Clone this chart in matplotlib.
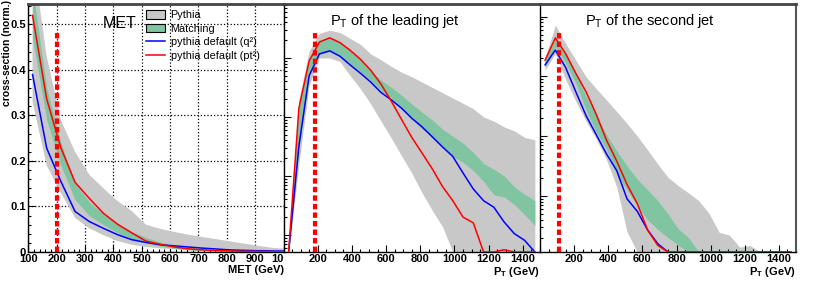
"""Three pads: MET, leading jet pT and second jet pT, Pythia band vs matching."""

import matplotlib
matplotlib.use("Agg")
import matplotlib.pyplot as plt
import numpy as np
from matplotlib.lines import Line2D
from matplotlib.patches import Patch, Rectangle
from matplotlib.ticker import (FuncFormatter, LogLocator, MultipleLocator,
                               NullFormatter)

plt.rcParams["font.family"] = ["Liberation Sans", "DejaVu Sans"]
plt.rcParams["mathtext.fontset"] = "custom"
plt.rcParams["mathtext.rm"] = "Liberation Sans"

# ---- MET (linear pad)
met_x = [115, 165, 215, 265, 315, 365, 415, 465, 515, 565,
         615, 665, 715, 765, 815, 865, 915, 965, 1015]
met_pt2 = [0.52, 0.336, 0.229, 0.153, 0.118, 0.085, 0.061, 0.042, 0.024, 0.017,
           0.011, 0.007, 0.0047, 0.0032, 0.0023, 0.0016, 0.0011, 0.0008, 0.0006]
met_q2 = [0.39, 0.228, 0.155, 0.089, 0.067, 0.052, 0.038, 0.027, 0.021, 0.016,
          0.0135, 0.011, 0.0085, 0.0065, 0.0045, 0.0035, 0.0028, 0.0022, 0.0018]
met_match_lo = [0.47, 0.29, 0.19, 0.115, 0.080, 0.060, 0.042, 0.029, 0.020, 0.013,
                0.008, 0.005, 0.003, 0.002, 0.0015, 0.001, 0.0008, 0.0006, 0.0005]
met_match_hi = [0.58, 0.36, 0.24, 0.15, 0.11, 0.083, 0.062, 0.045, 0.032, 0.022,
                0.014, 0.010, 0.007, 0.005, 0.004, 0.003, 0.0025, 0.002, 0.0015]
met_pythia_lo = [0.33, 0.19, 0.13, 0.075, 0.052, 0.037, 0.024, 0.016, 0.011, 0.008,
                 0.006, 0.004, 0.003, 0.002, 0.0015, 0.001, 0.0008, 0.0006, 0.0005]
met_pythia_hi = [0.65, 0.43, 0.29, 0.22, 0.17, 0.14, 0.112, 0.09, 0.06, 0.051,
                 0.044, 0.038, 0.033, 0.028, 0.023, 0.018, 0.013, 0.009, 0.007]
met_cut = 200

# ---- pT of the leading jet (log pad)
jet_x = [30, 90, 150, 210, 270, 330, 390, 450, 510, 570, 630, 690, 750,
         810, 870, 930, 990, 1050, 1110, 1170, 1230, 1290, 1350, 1410, 1470]
lead_pt2 = [0, 0.0141, 0.089, 0.186, 0.219, 0.182, 0.135, 0.095, 0.062, 0.036,
            0.0186, 0.0091, 0.0045, 0.00245, 0.00132, 6.6e-4, 3.8e-4, 2.0e-4,
            1.6e-4, 0, 0, 5.6e-5, 0, 0, 0]
lead_q2 = [0, 0.0032, 0.050, 0.117, 0.132, 0.107, 0.076, 0.055, 0.039, 0.026,
           0.0195, 0.0141, 0.0095, 0.0068, 0.0046, 0.0031, 0.00214, 0.00112,
           6.0e-4, 3.8e-4, 2.95e-4, 1.66e-4, 1.05e-4, 8.1e-5, 0]
lead_match_lo = [0, 0.0028, 0.050, 0.115, 0.129, 0.107, 0.079, 0.0575, 0.0417,
                 0.028, 0.0209, 0.0141, 0.0093, 0.0063, 0.0046, 0.0032, 0.00214,
                 0.0017, 0.00123, 8.1e-4, 4.8e-4, 4.4e-4, 3.3e-4, 2.2e-4, 1.45e-4]
lead_match_hi = [0, 0.0141, 0.100, 0.200, 0.224, 0.186, 0.135, 0.095, 0.060,
                 0.042, 0.032, 0.0234, 0.0166, 0.012, 0.0089, 0.0062, 0.0047,
                 0.0036, 0.0025, 0.00162, 0.00129, 0.0010, 6.5e-4, 4.9e-4, 3.8e-4]
lead_pythia_lo = [0, 0.0016, 0.035, 0.10, 0.10, 0.087, 0.050, 0.030, 0.0166,
                  0.0085, 0.0044, 0.0022, 0.00112, 5.2e-4, 2.6e-4, 1.38e-4,
                  0, 0, 0, 0, 0, 0, 0, 0, 0]
lead_pythia_hi = [0, 0.020, 0.132, 0.263, 0.295, 0.27, 0.214, 0.17, 0.117, 0.093,
                  0.072, 0.0575, 0.048, 0.039, 0.0316, 0.0257, 0.0209, 0.017,
                  0.0138, 0.010, 0.0085, 0.0068, 0.0058, 0.0045, 0.0041]
lead_cut = 185

# ---- pT of the second jet (log pad)
sub_pt2 = [0.186, 0.44, 0.24, 0.112, 0.055, 0.0229, 0.0085, 0.0038, 0.00155,
           7.4e-4, 2.7e-4, 1.48e-4, 0, 0, 0, 0, 0, 0, 0, 0, 0, 0, 0, 0, 0]
sub_q2 = [0.155, 0.275, 0.141, 0.055, 0.0219, 0.0105, 0.0050, 0.00263, 8.9e-4,
          5.5e-4, 2.7e-4, 1.58e-4, 0, 0, 0, 0, 0, 0, 0, 0, 0, 0, 0, 0, 0]
sub_match_lo = [0.141, 0.316, 0.166, 0.076, 0.0275, 0.0117, 0.0060, 0.00234,
                0.00126, 6.8e-4, 4.0e-4, 2.75e-4, 2.0e-4, 1.5e-4,
                0, 0, 0, 0, 0, 0, 0, 0, 0, 0, 0]
sub_match_hi = [0.19, 0.417, 0.25, 0.112, 0.046, 0.0224, 0.0105, 0.0056, 0.00316,
                0.0019, 0.00126, 8.3e-4, 5.0e-4, 2.8e-4, 2.0e-4,
                0, 0, 0, 0, 0, 0, 0, 0, 0, 0]
sub_pythia_lo = [0.126, 0.24, 0.089, 0.038, 0.0178, 0.0089, 0.0040, 0.0014,
                 2.5e-4, 0, 0, 0, 0, 0, 0, 0, 0, 0, 0, 0, 0, 0, 0, 0, 0]
sub_pythia_hi = [0.204, 0.72, 0.355, 0.186, 0.098, 0.062, 0.040, 0.0257, 0.0162,
                 0.010, 0.0059, 0.0034, 0.00204, 0.00148, 0.00112, 8.3e-4,
                 5.1e-4, 2.45e-4, 2.2e-4, 1.38e-4, 1.48e-4, 0, 0, 0, 0]
sub_cut = 110

GREY = "#c8c8c8"
GREEN = "#80c4a2"
LEGEND_LABELS = ["Pythia", "Matching", "pythia default (q²)",
                 "pythia default (pt²)"]


def floor(values, bottom):
    """Empty bins sit on the lower edge of a log pad."""
    v = np.asarray(values, dtype=float)
    return np.where(v > 0, v, bottom)


def draw_pad(ax, x, pyt_lo, pyt_hi, m_lo, m_hi, q2, pt2, cut, bottom=None):
    if bottom is not None:
        pyt_lo, pyt_hi = floor(pyt_lo, bottom), floor(pyt_hi, bottom)
        m_lo, m_hi = floor(m_lo, bottom), floor(m_hi, bottom)
        q2, pt2 = floor(q2, bottom), floor(pt2, bottom)
    ax.fill_between(x, pyt_lo, pyt_hi, color=GREY, lw=0, zorder=1)
    ax.fill_between(x, m_lo, m_hi, color=GREEN, lw=0, zorder=2)
    ax.plot(x, q2, color="blue", lw=1.1, zorder=3)
    ax.plot(x, pt2, color="red", lw=1.1, zorder=4)
    ax.axvline(cut, ymin=0, ymax=0.89, color="red", lw=3,
               linestyle=(0, (1.3, 0.75)), zorder=5)


def style_pad(ax, right_visible=False):
    for side in ("left", "bottom"):
        ax.spines[side].set_color("black")
        ax.spines[side].set_linewidth(1.0)
    ax.spines["top"].set_color("#444444")
    ax.spines["top"].set_linewidth(2.0)
    ax.spines["right"].set_visible(right_visible)
    ax.spines["right"].set_color("#555555")
    ax.spines["right"].set_linewidth(1.5)
    ax.tick_params(which="both", direction="in", top=False, right=False,
                   width=0.8)
    ax.tick_params(which="major", length=5, labelsize=8, pad=1.5)
    ax.tick_params(which="minor", length=2.5)
    for lbl in ax.get_xticklabels() + ax.get_yticklabels():
        lbl.set_fontweight("bold")


fig = plt.figure(figsize=(8.22, 2.81), dpi=100)
bottom_f, height_f = 0.1032, 0.8826
ax1 = fig.add_axes([0.0344, bottom_f, 0.3105, height_f])
ax2 = fig.add_axes([0.3449, bottom_f, 0.3120, height_f])
ax3 = fig.add_axes([0.6569, bottom_f, 0.3115, height_f])

# MET pad
draw_pad(ax1, met_x, met_pythia_lo, met_pythia_hi, met_match_lo, met_match_hi,
         met_q2, met_pt2, met_cut)
ax1.set_xlim(100, 1000)
ax1.set_ylim(0, 0.545)
ax1.xaxis.set_major_locator(MultipleLocator(100))
ax1.xaxis.set_minor_locator(MultipleLocator(20))
ax1.yaxis.set_major_locator(MultipleLocator(0.1))
ax1.yaxis.set_minor_locator(MultipleLocator(0.02))
ax1.yaxis.set_major_formatter(FuncFormatter(lambda v, _: "0" if v == 0 else f"{v:.1f}"))
ax1.grid(True, which="major", linestyle=":", color="black", lw=0.9, zorder=0)
ax1.set_axisbelow(True)
ax1.set_ylabel("cross-section (norm.)", loc="top", fontsize=7.5,
               fontweight="bold")
ax1.yaxis.set_label_coords(-0.063, 1.015)
ax1.set_xlabel("MET (GeV)", loc="right", fontsize=8, fontweight="bold", labelpad=1)
ax1.text(0.293, 0.903, "MET", transform=ax1.transAxes, fontsize=11.5,
         va="baseline")
handles = [Patch(facecolor=GREY, edgecolor="black", lw=0.8),
           Patch(facecolor=GREEN, edgecolor="black", lw=0.8),
           Line2D([], [], color="blue", lw=1.1),
           Line2D([], [], color="red", lw=1.1)]
ax1.legend(handles, LEGEND_LABELS, loc="upper left", bbox_to_anchor=(0.46, 0.975),
           frameon=False, fontsize=7.8, borderpad=0, borderaxespad=0,
           handlelength=1.8, handleheight=0.8, handletextpad=0.5,
           labelspacing=0.32)
style_pad(ax1)

# jet pads
hide_zero = FuncFormatter(lambda v, _: "" if v == 0 else f"{v:.0f}")
for ax, pt2, q2, mlo, mhi, plo, phi, cut, ylim in [
    (ax2, lead_pt2, lead_q2, lead_match_lo, lead_match_hi, lead_pythia_lo,
     lead_pythia_hi, lead_cut, (10 ** -4.29, 10 ** -0.085)),
    (ax3, sub_pt2, sub_q2, sub_match_lo, sub_match_hi, sub_pythia_lo,
     sub_pythia_hi, sub_cut, (10 ** -3.94, 10 ** 0.21)),
]:
    ax.set_yscale("log")
    draw_pad(ax, jet_x, plo, phi, mlo, mhi, q2, pt2, cut, bottom=ylim[0])
    ax.set_xlim(0, 1500)
    ax.set_ylim(*ylim)
    ax.xaxis.set_major_locator(MultipleLocator(200))
    ax.xaxis.set_minor_locator(MultipleLocator(50))
    ax.xaxis.set_major_formatter(hide_zero)
    ax.yaxis.set_major_locator(LogLocator(base=10))
    ax.yaxis.set_minor_locator(LogLocator(base=10, subs=range(2, 10)))
    ax.yaxis.set_major_formatter(NullFormatter())
    ax.yaxis.set_minor_formatter(NullFormatter())
    ax.set_xlabel(r"P$_\mathregular{T}$ (GeV)", loc="right", fontsize=8,
                  fontweight="bold", labelpad=1)
    style_pad(ax, right_visible=(ax is ax3))
    ax.set_zorder(1)

ax2.text(0.181, 0.915, r"P$_\mathregular{T}$ of the leading jet",
         transform=ax2.transAxes, fontsize=10.5, va="baseline")
ax3.text(0.176, 0.915, r"P$_\mathregular{T}$ of the second jet",
         transform=ax3.transAxes, fontsize=10.5, va="baseline")

# the middle pad hides the tail of the MET "1000" label, as in the source
pos2 = ax2.get_position()
fig.add_artist(Rectangle((pos2.x0, 0), pos2.width, pos2.y0,
                         transform=fig.transFigure, facecolor="white",
                         edgecolor="none", zorder=0.5))

fig.savefig("out.png", dpi=100)
